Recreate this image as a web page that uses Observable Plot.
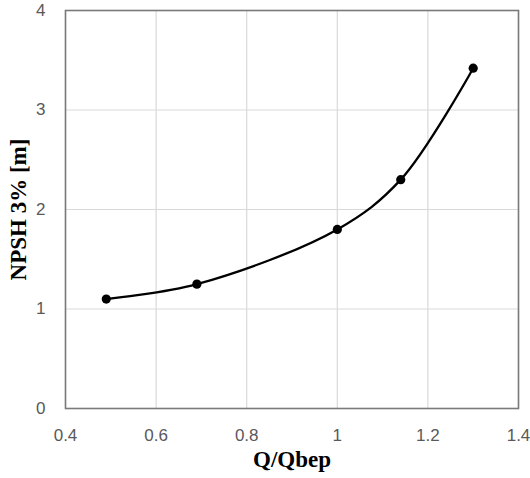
<!DOCTYPE html>
<html>
<head>
<meta charset="utf-8">
<script src="https://cdn.jsdelivr.net/npm/d3@7"></script>
<script src="https://cdn.jsdelivr.net/npm/@observablehq/plot@0.6"></script>
<style>
  html, body { margin: 0; padding: 0; background: #fff; }
  #chart svg { display: block; }
</style>
</head>
<body>
<div id="chart"></div>
<script>
// Data
const qRatio = [0.49, 0.69, 1.0, 1.14, 1.3];
const npsh3 = [1.1, 1.25, 1.8, 2.3, 3.42];
const xTicks = [0.4, 0.6, 0.8, 1.0, 1.2, 1.4];
const xTickLabels = ["0.4", "0.6", "0.8", "1", "1.2", "1.4"];
const yTicks = [0, 1, 2, 3, 4];
const yTickLabels = ["0", "1", "2", "3", "4"];
const xTitle = "Q/Qbep";
const yTitle = "NPSH 3% [m]";

const data = qRatio.map((q, i) => ({q, h: npsh3[i]}));

const tickFont = "'Liberation Sans', Arial, sans-serif";
const titleFont = "'Liberation Serif', 'Times New Roman', serif";

const chart = Plot.plot({
  width: 530,
  height: 478,
  marginLeft: 65,
  marginRight: 12,
  marginTop: 10,
  marginBottom: 70,
  style: {background: "#fff", overflow: "visible"},
  x: {domain: [0.4, 1.4]},
  y: {domain: [0, 4]},
  marks: [
    Plot.gridX(xTicks, {stroke: "#d9d9d9", strokeOpacity: 1, strokeWidth: 1.2}),
    Plot.gridY(yTicks, {stroke: "#d9d9d9", strokeOpacity: 1, strokeWidth: 1.2}),
    Plot.frame({stroke: "#7a7a7a", strokeWidth: 1.6}),
    Plot.axisX(xTicks, {
      tickSize: 0, tickPadding: 20, label: null,
      tickFormat: (d) => xTickLabels[xTicks.indexOf(d)],
      fontSize: 17, fontFamily: tickFont, fill: "#595959"
    }),
    Plot.axisY(yTicks, {
      tickSize: 0, tickPadding: 20, label: null,
      tickFormat: (d) => yTickLabels[yTicks.indexOf(d)],
      fontSize: 17, fontFamily: tickFont, fill: "#595959"
    }),
    Plot.line(data, {x: "q", y: "h", curve: "catmull-rom", stroke: "#000", strokeWidth: 2.3}),
    Plot.dot(data, {x: "q", y: "h", r: 4.6, fill: "#000", stroke: "none"}),
    Plot.text([xTitle], {
      frameAnchor: "bottom", dy: 58, lineAnchor: "bottom", textAnchor: "middle",
      fontSize: 23, fontWeight: "bold", fontFamily: titleFont, fill: "#000"
    }),
    Plot.text([yTitle], {
      frameAnchor: "left", dx: -47, rotate: -90, lineAnchor: "middle", textAnchor: "middle",
      fontSize: 23, fontWeight: "bold", fontFamily: titleFont, fill: "#000"
    })
  ]
});
document.getElementById("chart").appendChild(chart);
</script>
</body>
</html>
